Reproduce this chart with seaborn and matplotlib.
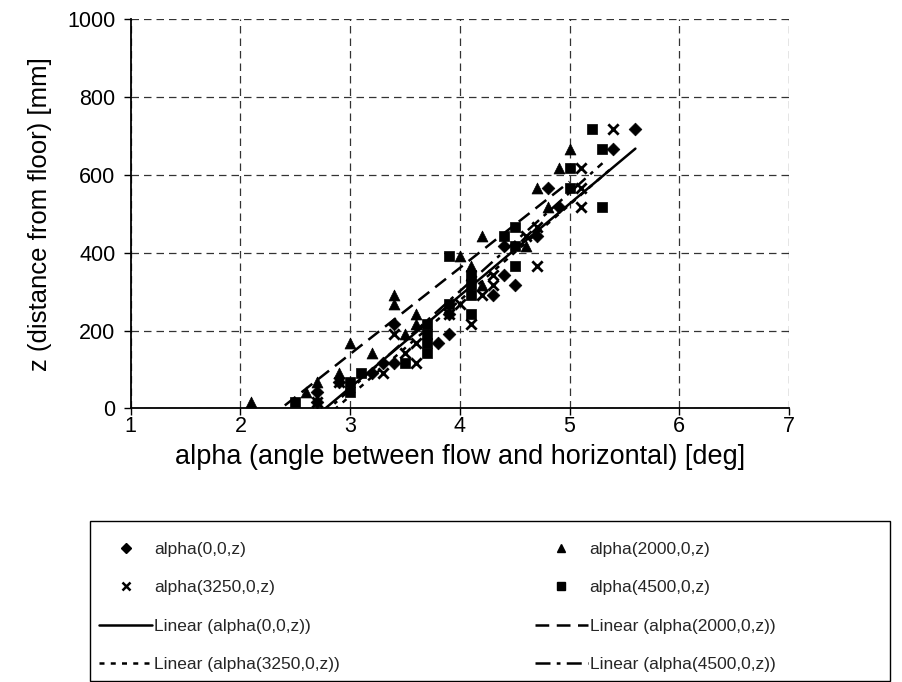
import numpy as np
import pandas as pd
import matplotlib
matplotlib.use("Agg")
import matplotlib.pyplot as plt
from matplotlib.lines import Line2D
from matplotlib.patches import Rectangle
import seaborn as sns

# ---------------- data ----------------
alpha_0 = [2.7, 2.7, 2.9, 3.2, 3.3, 3.4, 3.4, 3.8, 3.9, 3.9, 4.3, 4.5, 4.4, 4.4, 4.7, 4.9, 4.8, 5.4, 5.6]
z_0     = [17, 42, 67, 92, 117, 117, 217, 167, 192, 242, 292, 317, 342, 417, 442, 517, 567, 667, 717]

alpha_2000 = [2.1, 2.6, 2.7, 2.9, 3.2, 3.0, 3.5, 3.6, 3.6, 3.4, 3.4, 4.2, 4.1, 4.1, 4.0, 4.6, 4.2, 4.8, 4.7, 4.9, 5.0]
z_2000     = [17, 42, 67, 92, 142, 167, 192, 217, 242, 267, 292, 317, 342, 367, 392, 417, 442, 517, 567, 617, 667]

alpha_3250 = [2.7, 2.9, 3.3, 3.6, 3.5, 3.6, 3.4, 4.1, 3.9, 4.0, 4.2, 4.3, 4.3, 4.7, 4.6, 4.7, 5.1, 5.1, 5.1, 5.4]
z_3250     = [17, 67, 92, 117, 142, 167, 192, 217, 242, 267, 292, 317, 342, 367, 442, 467, 517, 567, 617, 717]

alpha_4500 = [2.5, 3.0, 3.0, 3.1, 3.5, 3.7, 3.7, 3.7, 3.7, 4.1, 3.9, 4.1, 4.1, 4.1, 4.5, 3.9, 4.5, 4.4, 4.5, 5.3, 5.0, 5.0, 5.3, 5.2]
z_4500     = [17, 42, 67, 92, 117, 142, 167, 192, 217, 242, 267, 292, 317, 342, 367, 392, 417, 442, 467, 517, 567, 617, 667, 717]

series_labels = ["alpha(0,0,z)", "alpha(2000,0,z)", "alpha(3250,0,z)", "alpha(4500,0,z)"]
fit_labels = ["Linear (alpha(0,0,z))", "Linear (alpha(2000,0,z))",
              "Linear (alpha(3250,0,z))", "Linear (alpha(4500,0,z))"]

x_ticks = [1, 2, 3, 4, 5, 6, 7]
y_ticks = [0, 200, 400, 600, 800, 1000]
x_label = "alpha (angle between flow and horizontal) [deg]"
y_label = "z (distance from floor) [mm]"

# ---------------- style ----------------
sns.set_style("white")
plt.rcParams["font.family"] = ["Liberation Sans", "DejaVu Sans"]

fig = plt.figure(figsize=(9.02, 6.82), dpi=100)
W, H = 902, 682
left, right, top, bottom = 130.7, 789.0, 19.3, 408.3
ax = fig.add_axes([left / W, 1 - bottom / H, (right - left) / W, (bottom - top) / H])

datasets = [(alpha_0, z_0), (alpha_2000, z_2000), (alpha_3250, z_3250), (alpha_4500, z_4500)]
markers = ["D", "^", "x", "s"]
msizes = [42, 62, 55, 55]
linestyles = ["-", (0, (5.5, 3)), (0, (2, 2.5)), (0, (6, 2.5, 1.5, 2.5))]

for (a, z), mk, ms, ls in zip(datasets, markers, msizes, linestyles):
    df = pd.DataFrame({"alpha": a, "z": z})
    if mk == "x":
        sns.scatterplot(data=df, x="alpha", y="z", marker=mk, s=ms, color="black",
                        linewidth=2.0, ax=ax, legend=False, zorder=3)
    else:
        sns.scatterplot(data=df, x="alpha", y="z", marker=mk, s=ms, color="black",
                        edgecolor="black", linewidth=0.5, ax=ax, legend=False, zorder=3)
    sns.regplot(data=df, x="alpha", y="z", scatter=False, ci=None, truncate=True,
                color="black", line_kws=dict(linewidth=1.8, linestyle=ls, zorder=4), ax=ax)

ax.set_xlim(1, 7)
ax.set_ylim(0, 1000)
ax.set_xticks(x_ticks)
ax.set_yticks(y_ticks)
ax.set_xticklabels([str(t) for t in x_ticks])
ax.set_yticklabels([str(t) for t in y_ticks])
ax.grid(True, color="#333333", linestyle=(0, (6, 4)), linewidth=0.9)
ax.set_axisbelow(True)
for s in ["top", "right"]:
    ax.spines[s].set_visible(False)
for s in ["left", "bottom"]:
    ax.spines[s].set_color("black")
    ax.spines[s].set_linewidth(1.3)
ax.tick_params(axis="both", which="major", direction="out", length=5, width=1.0,
               color="black", labelsize=15.5, bottom=True, left=True, labelcolor="black")
ax.tick_params(axis="x", pad=0.5)
ax.tick_params(axis="y", pad=6)
ax.set_xlabel(x_label, fontsize=19.5, labelpad=5, color="black")
ax.set_ylabel(y_label, fontsize=18.5, labelpad=11, color="black")

# ---------------- legend ----------------
lh = [
    Line2D([], [], linestyle="none", marker="D", markersize=5, color="black"),
    Line2D([], [], linestyle="none", marker="x", markersize=6, markeredgewidth=1.8, color="black"),
    Line2D([], [], linestyle="-", linewidth=1.8, color="black"),
    Line2D([], [], linestyle=(0, (2, 2.5)), linewidth=1.8, color="black"),
    Line2D([], [], linestyle="none", marker="^", markersize=6, color="black"),
    Line2D([], [], linestyle="none", marker="s", markersize=6, color="black"),
    Line2D([], [], linestyle=(0, (5.5, 3)), linewidth=1.8, color="black"),
    Line2D([], [], linestyle=(0, (6, 2.5, 1.5, 2.5)), linewidth=1.8, color="black"),
]
ll = [series_labels[0], series_labels[2], fit_labels[0], fit_labels[2],
      series_labels[1], series_labels[3], fit_labels[1], fit_labels[3]]
fs = 12.5
fpx = fs * 100 / 72
leg = fig.legend(lh, ll, ncol=2, loc="upper left",
                 bbox_to_anchor=(99 / W, 1 - 542 / H), frameon=False,
                 fontsize=fs, handlelength=53 / fpx, handletextpad=2 / fpx,
                 columnspacing=195 / fpx, labelspacing=(40.5 - fpx) / fpx,
                 borderpad=0, borderaxespad=0)
fig.patches.append(Rectangle((90 / W, 1 - 681 / H), 800 / W, 160 / H, transform=fig.transFigure,
                             fill=False, edgecolor="black", linewidth=1.0))

fig.savefig("out.png", dpi=100)
